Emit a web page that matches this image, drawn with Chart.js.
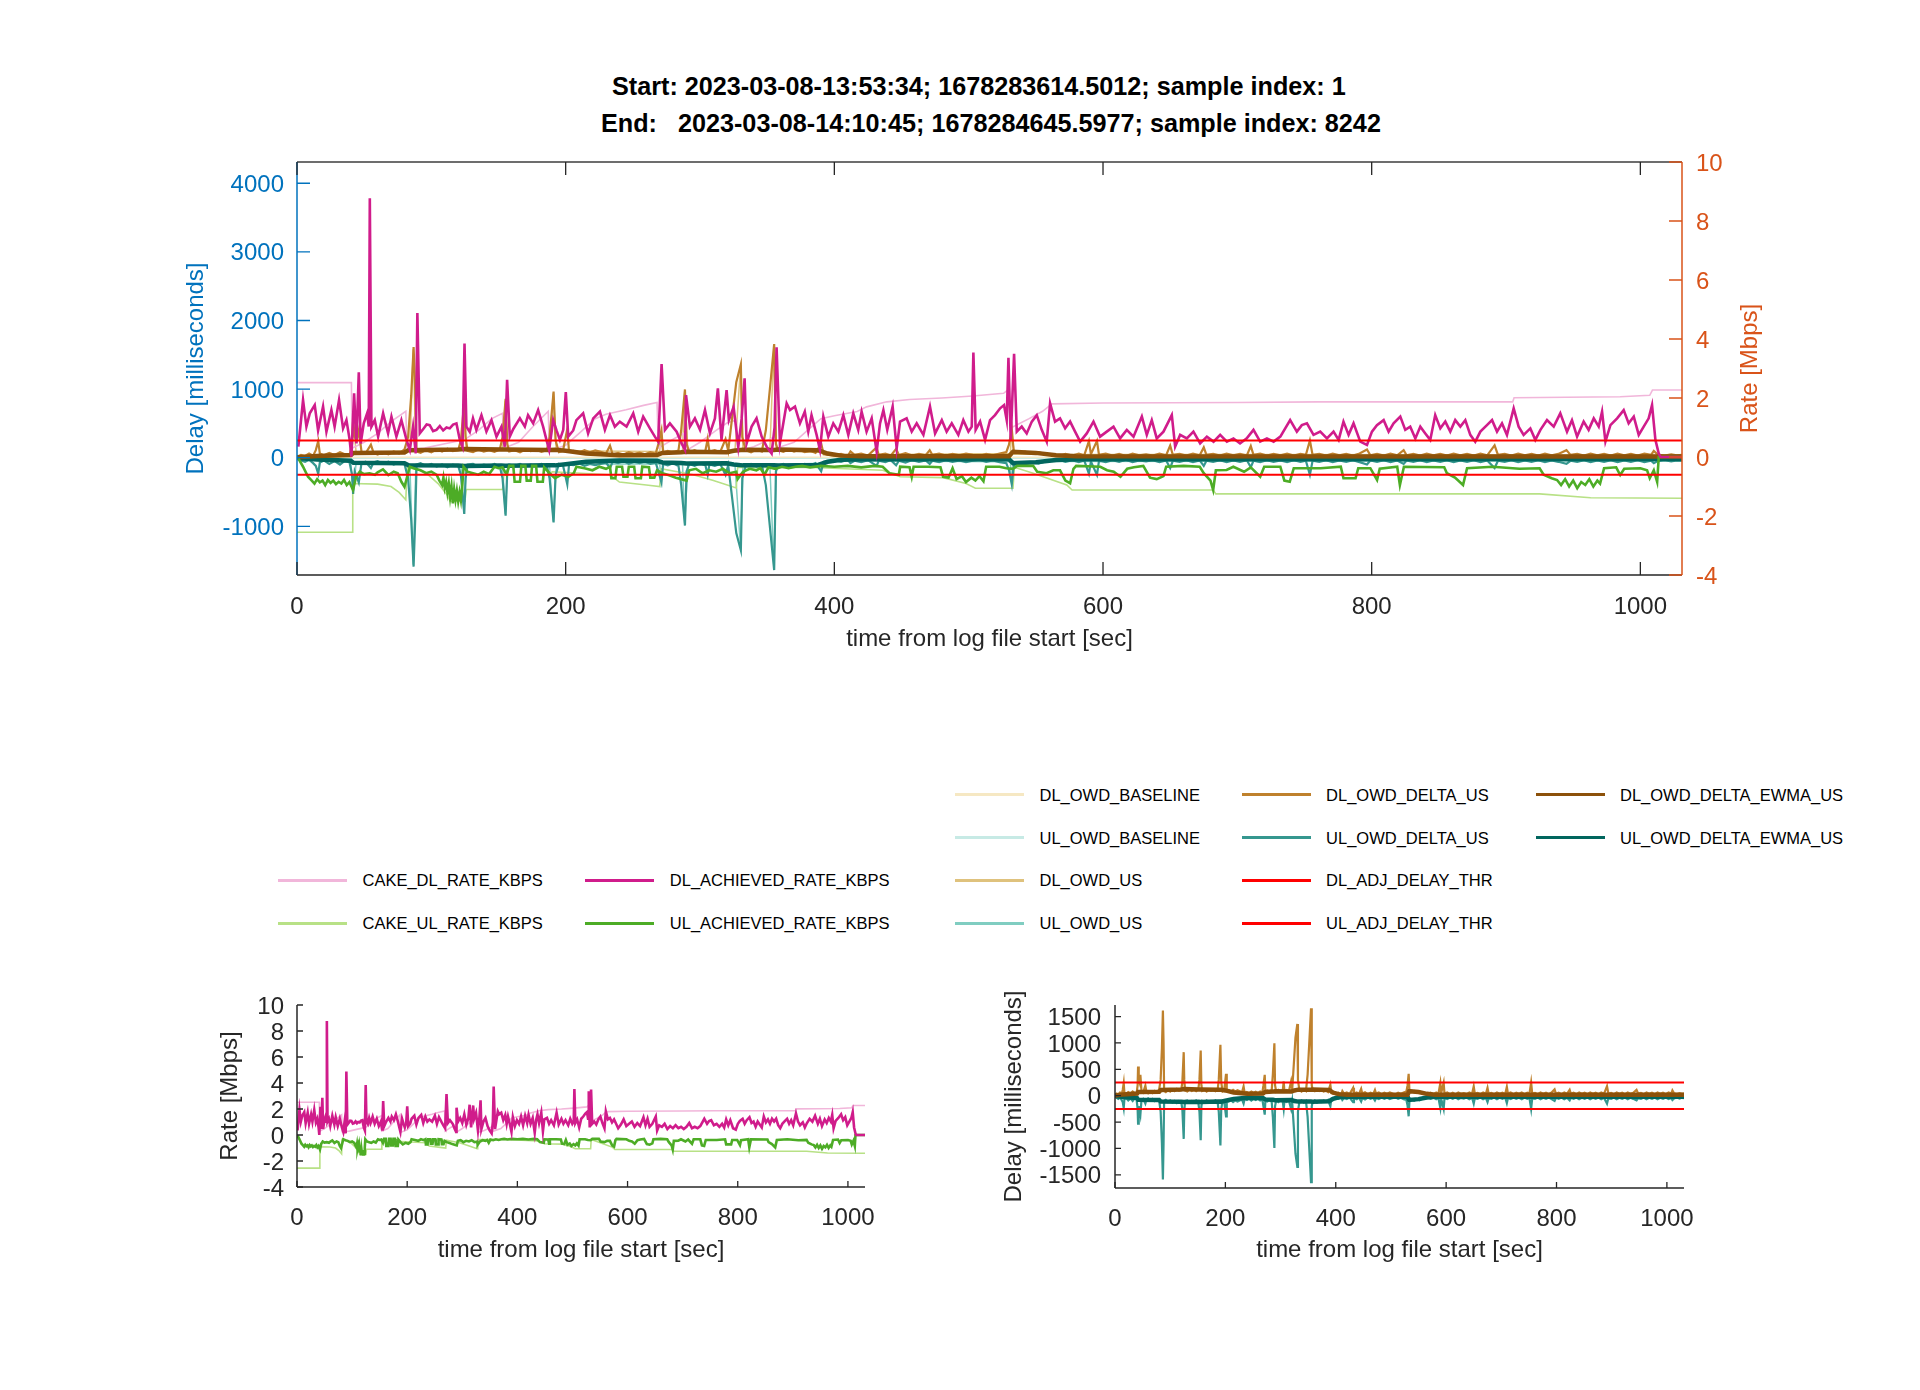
<!DOCTYPE html>
<html><head><meta charset="utf-8">
<script src="https://cdn.jsdelivr.net/npm/chart.js@4.4.0/dist/chart.umd.min.js"></script>
<style>
body{margin:0;background:#fff;}
#page{position:relative;width:1920px;height:1390px;background:#fff;font-family:"Liberation Sans",Arial,Helvetica,sans-serif;overflow:hidden;}
.ttl{position:absolute;font-weight:bold;font-size:25.2px;white-space:pre;color:#000;line-height:30px;}
canvas{position:absolute;}
.lg{position:absolute;height:20px;font-size:16.5px;color:#000;white-space:nowrap;}
.lg i{position:absolute;left:0;top:8.5px;width:69px;height:3px;}
.lg span{position:absolute;top:0;line-height:20px;}
</style></head>
<body><div id="page">
<div class="ttl" id="t1" style="left:612px;top:71px;"></div>
<div class="ttl" id="t2" style="left:601px;top:108px;"></div>
<canvas id="cTop" width="1700" height="548" style="left:150px;top:122px;width:1700px;height:548px;"></canvas>
<canvas id="cRate" width="760" height="315" style="left:150px;top:965px;width:760px;height:315px;"></canvas>
<canvas id="cDelay" width="760" height="315" style="left:960px;top:965px;width:760px;height:315px;"></canvas>
<div id="legend"></div>
</div>
<script>
// ---------------- text ----------------
const titleLines = [
  "Start: 2023-03-08-13:53:34; 1678283614.5012; sample index: 1",
  "End:   2023-03-08-14:10:45; 1678284645.5977; sample index: 8242"
];
const xTitle = "time from log file start [sec]";
const delayTitle = "Delay [milliseconds]";
const rateTitle = "Rate [Mbps]";

// ---------------- tick values ----------------
const timeTicks = [0, 200, 400, 600, 800, 1000];
const delayTopTicks = [-1000, 0, 1000, 2000, 3000, 4000];
const rateTicks = [-4, -2, 0, 2, 4, 6, 8, 10];
const delayBotTicks = [-1500, -1000, -500, 0, 500, 1000, 1500];
const xMin = 0, xMax = 1031;
const delayTopMin = -1710, delayTopMax = 4310;
const rateMin = -4, rateMax = 10;
const delayBotMin = -1750, delayBotMax = 1720;

// ---------------- data: [time s, value] ----------------
// rates in Mbps (right axis), delays in ms (left axis)
const cakeDlRate = [[0,2.52],[40.5,2.52],[41,0.3],[50,0.5],[60,0.8],[70,1.2],[81,1.55],[82,0.25],[95,0.3],[110,0.45],[121,0.55],[125,0.6],[135,0.9],[145,1.3],[153,1.48],[154,0.3],[165,0.5],[175,1.0],[187,1.55],[188,0.2],[200,0.4],[210,0.8],[222,1.3],[230,1.45],[245,1.6],[258,1.75],[268,1.85],[269,0.3],[280,0.6],[288,0.8],[289,0.2],[300,0.5],[312,0.9],[320,1.15],[327,1.25],[328,0.2],[340,0.35],[352,0.6],[356,0.7],[357,0.3],[370,0.5],[380,0.9],[390,1.3],[400,1.4],[417,1.54],[424,1.7],[439,1.87],[456,1.95],[480,2.0],[503,2.07],[526,2.16],[529,2.27],[532,1.0],[545,1.3],[555,1.55],[562,1.8],[600,1.83],[700,1.85],[760,1.87],[905,1.87],[906,2.01],[985,2.04],[1007,2.09],[1009,2.27],[1031,2.27]];

const cakeUlRate = [[0,-2.55],[41,-2.55],[41.5,-0.9],[60,-0.92],[70,-1.0],[76,-1.2],[81,-1.45],[82,-0.35],[95,-0.5],[105,-0.9],[112,-1.3],[114,-1.5],[125,-1.5],[126,-1.1],[153,-1.1],[154,-0.6],[188,-0.6],[190,-0.5],[233,-0.6],[240,-0.85],[260,-0.95],[270,-1.0],[271,-0.4],[295,-0.6],[310,-0.8],[327,-1.05],[328,-0.35],[380,-0.35],[436,-0.45],[449,-0.67],[481,-0.7],[498,-0.9],[505,-1.06],[533,-1.06],[534,-0.35],[548,-0.55],[573,-0.95],[577,-1.12],[682,-1.12],[684,-1.25],[925,-1.25],[963,-1.38],[1031,-1.4]];

const dlAchievedRate = [[1,0.35],[4.5,1.93],[7,1.03],[9.5,1.48],[13.2,1.76],[15.7,0.9],[19.4,1.71],[21.9,0.86],[25.6,1.59],[28,1.03],[31.3,1.93],[34.3,0.97],[36.8,1.25],[39.2,0.58],[40.5,0.01],[42.5,2.16],[44.2,0.46],[46,2.87],[47.4,0.46],[49.7,1.14],[52.2,1.48],[53.4,1.03],[54.2,8.77],[55.4,1.03],[57.9,1.25],[60.4,0.69],[64.1,1.48],[67.8,0.8],[70.3,1.37],[74,0.69],[77.7,1.25],[81.5,0.58],[84,0.24],[86.4,1.03],[88.4,0.12],[89.6,4.88],[91.4,0.8],[94,0.95],[96.5,1.1],[98.8,1.08],[101.3,0.88],[103.8,0.92],[106.3,1.05],[108.8,0.9],[111.3,1.0],[113.7,0.97],[116.2,1.1],[118.7,1.14],[121.2,0.58],[123.2,0.35],[124.7,3.85],[126.1,1.03],[128.6,0.85],[131,1.31],[133.5,0.92],[137.3,1.42],[141,0.86],[144.8,1.25],[148.5,0.69],[152.2,1.03],[154.7,0.35],[156.4,2.62],[158.4,0.69],[161,0.95],[165.9,1.31],[169.6,1.03],[172,1.42],[175.8,1.14],[179.5,1.59],[183.2,1.03],[185.7,0.58],[187.7,0.24],[190.7,1.25],[193.2,0.9],[195.7,0.58],[198.2,0.92],[200.1,2.2],[201.9,0.69],[205.6,0.9],[208,1.25],[213,1.48],[216.7,0.8],[220.5,1.31],[225.5,1.54],[229.2,0.92],[233,1.42],[236.6,1.03],[240.3,1.2],[245.3,1.03],[250.3,1.48],[254,0.86],[257.7,1.37],[262.7,0.97],[266.4,0.69],[268.9,0.52],[271.4,3.15],[273.9,0.92],[277.6,1.14],[282.6,0.86],[286.3,0.46],[288.8,0.24],[289.6,2.1],[292.5,1.03],[296.2,1.31],[300,0.92],[303.7,1.59],[307.4,0.8],[311.1,1.31],[313.3,2.33],[316,0.58],[319.8,2.27],[321.5,1.25],[325,1.7],[328.5,0.35],[331,1.3],[333.2,2.67],[334.7,0.46],[338.4,1.03],[342.1,1.31],[345.9,0.69],[349.6,0.35],[353.3,0.12],[355.5,1.0],[357,3.72],[359.5,0.46],[364.5,1.82],[367,1.59],[370.7,1.71],[374.4,1.14],[378,1.54],[380.6,0.86],[383,1.42],[386.8,0.75],[389.3,0.24],[391.8,1.37],[395.5,0.69],[399.2,1.14],[403,0.86],[406.7,1.42],[410.4,0.75],[414.1,1.48],[417.8,0.92],[420.3,1.54],[424,0.86],[427.8,1.31],[431.5,0.18],[434,1.14],[436.5,1.59],[439.4,0.92],[443.4,1.71],[446.4,0.29],[448.9,1.2],[453.8,1.31],[457.6,0.86],[461.3,1.14],[466.3,0.75],[471.2,1.71],[475,0.8],[480,1.25],[483.6,0.86],[487.4,1.14],[492.3,0.75],[496,1.25],[499.8,0.86],[502.3,1.03],[503.5,3.54],[505.2,0.92],[508.5,1.2],[512.2,0.58],[515.9,1.25],[519.6,1.42],[523.4,1.65],[526.3,1.76],[528.3,1.25],[529.6,3.36],[531.3,0.58],[533.8,3.5],[535.8,0.86],[539.5,1.03],[543.2,0.8],[547,1.2],[550.7,1.42],[554.4,0.92],[558.1,0.52],[560.6,1.82],[564.3,1.2],[568,1.31],[571.8,0.97],[575.5,1.2],[579.2,0.86],[583,0.52],[587.9,0.8],[592.9,1.2],[597.8,0.69],[602.8,0.86],[607.8,1.03],[612.7,0.63],[617.7,0.92],[622.7,0.69],[628.9,1.37],[632.6,0.75],[636.3,1.25],[640,0.63],[645,0.86],[651.2,1.42],[653.7,0.35],[657.4,0.75],[662.4,0.63],[667.3,0.86],[672.3,0.46],[677.3,0.69],[682.3,0.52],[687.2,0.75],[692.2,0.52],[697.1,0.63],[702,0.46],[707,0.63],[712,0.92],[717,0.52],[722,0.63],[727,0.52],[732,0.69],[739.3,1.25],[744.3,0.86],[748,1.08],[751.8,1.14],[756.7,0.75],[761.7,0.86],[766.7,0.63],[771.6,0.86],[775.4,0.58],[779,1.2],[782.8,0.75],[786.5,1.14],[791.5,0.52],[796.5,0.41],[800.2,0.86],[803.9,1.08],[808.9,1.25],[812.6,0.86],[816.3,1.14],[821.3,1.37],[825,0.92],[828.7,1.03],[832.5,0.63],[836.2,1.03],[839.9,0.8],[843.6,0.58],[847.3,1.42],[851.1,0.97],[854.8,1.2],[858.5,0.86],[862.2,1.25],[866,1.03],[869.7,1.25],[873.4,0.75],[877.1,0.52],[880.9,0.86],[885.8,1.08],[889.6,1.25],[893.3,0.86],[897,1.14],[900.7,0.75],[905.7,1.65],[909.4,1.03],[913.1,0.75],[918.1,0.97],[921.8,0.58],[925.6,0.92],[930.5,1.25],[935.5,1.03],[940.4,1.48],[945.4,0.86],[949.1,1.25],[952.9,0.69],[957.8,1.2],[961.5,0.92],[965.3,1.31],[969,1.03],[971.5,1.54],[974,0.52],[977.7,1.08],[982.7,1.31],[987.6,1.59],[991.3,1.14],[995.1,1.37],[998.8,0.75],[1002.5,1.03],[1006.2,1.31],[1008.7,1.76],[1011.2,0.58],[1013.7,0.12],[1015,0],[1031,0]];

const ulAchievedRate = [[1,-0.05],[4.5,-0.33],[8.2,-0.67],[11,-0.8],[13,-0.9],[15,-0.75],[17,-0.86],[19,-0.8],[21,-0.95],[23,-0.78],[25,-0.88],[27,-0.8],[29,-0.92],[31,-0.84],[33,-0.9],[35,-0.78],[37,-0.95],[39,-0.85],[41.7,-1.12],[44,-0.67],[46.7,-0.5],[50,-0.58],[54,-0.55],[58,-0.6],[60,-0.52],[64,-0.42],[68,-0.61],[72,-0.5],[75,-0.55],[77.7,-0.84],[80,-1.01],[82.7,-0.55],[84,-0.33],[88,-0.4],[92,-0.45],[96,-0.55],[100,-0.5],[104,-0.61],[106,-0.8],[108,-0.95],[109,-0.7],[110,-1.05],[111,-0.85],[112,-1.2],[113,-0.9],[114,-1.35],[115,-1.0],[116,-1.57],[117,-1.1],[118,-1.45],[119,-1.15],[120,-1.5],[121,-1.2],[122,-1.46],[123,-1.0],[124,-0.33],[127,-0.5],[131,-0.55],[135,-0.6],[139,-0.5],[143,-0.58],[147,-0.33],[150,-0.38],[153,-0.35],[156,-0.6],[158,-0.3],[161,-0.3],[162,-0.84],[166,-0.84],[167,-0.3],[170,-0.3],[171,-0.8],[174,-0.8],[175,-0.3],[178,-0.3],[179,-0.84],[183,-0.84],[184,-0.35],[188,-0.55],[192,-0.72],[197,-0.6],[202,-0.67],[206,-0.55],[208,-0.33],[214,-0.38],[220,-0.45],[225,-0.33],[230,-0.4],[233,-0.33],[234,-0.72],[237,-0.72],[238,-0.33],[242,-0.33],[243,-0.67],[246,-0.67],[247,-0.33],[251,-0.33],[252,-0.72],[256,-0.72],[257,-0.33],[262,-0.35],[263,-0.7],[266,-0.7],[268,-0.45],[272,-0.55],[277,-0.62],[282,-0.7],[286,-0.75],[290,-0.8],[292,-0.45],[297,-0.4],[302,-0.55],[307,-0.45],[312,-0.5],[317,-0.4],[322,-0.55],[327,-0.5],[328,-0.75],[332,-0.5],[337,-0.4],[342,-0.45],[345,-0.38],[348,-0.6],[351,-0.35],[356,-0.4],[361,-0.33],[366,-0.38],[371,-0.33],[376,-0.3],[382,-0.35],[390,-0.3],[400,-0.33],[410,-0.3],[420,-0.35],[430,-0.3],[436,-0.33],[441,-0.55],[448,-0.6],[449,-0.33],[456,-0.35],[457.6,-0.67],[459,-0.33],[470,-0.33],[479,-0.35],[481,-0.67],[485,-0.7],[488,-0.38],[491,-0.75],[495,-0.65],[498,-0.85],[502,-0.7],[505,-0.8],[508,-0.65],[511,-0.82],[513,-0.33],[523,-0.33],[528,-0.38],[533,-0.4],[536,-0.3],[548,-0.3],[551,-0.5],[558,-0.55],[563,-0.45],[568,-0.45],[572,-0.8],[575.5,-0.89],[578,-0.4],[580,-0.3],[598,-0.33],[603,-0.45],[608,-0.5],[613,-0.67],[618,-0.4],[623,-0.35],[630,-0.3],[635,-0.7],[640,-0.75],[645,-0.65],[647,-0.33],[660,-0.3],[672,-0.33],[675,-0.55],[680,-0.8],[682,-1.12],[684,-0.45],[692,-0.44],[697,-0.33],[705,-0.5],[710,-0.35],[717,-0.67],[720,-0.33],[732,-0.33],[735,-0.8],[739,-0.84],[742,-0.38],[762,-0.38],[777,-0.33],[779,-0.72],[788,-0.72],[790,-0.38],[799,-0.38],[804,-0.78],[806,-0.4],[819,-0.33],[821,-0.95],[824,-0.33],[854,-0.35],[856,-0.55],[862,-0.7],[868,-0.95],[871,-0.38],[890,-0.33],[910,-0.4],[925,-0.38],[928,-0.6],[934,-0.72],[938,-0.78],[941,-0.95],[944,-0.75],[947,-1.0],[950,-0.8],[953,-1.06],[956,-0.85],[959,-0.95],[962,-0.75],[965,-1.0],[968,-0.8],[970,-0.9],[973,-0.38],[982,-0.35],[985,-0.61],[988,-0.4],[1000,-0.38],[1005,-0.45],[1007,-0.72],[1010,-0.45],[1012.5,-0.84],[1013.7,0],[1031,0]];

const dlOwdBaseline = [[0,8],[1031,8]];
const ulOwdBaseline = [[0,-8],[1031,-8]];

const dlOwdUs = [[0,20],[40,60],[41.8,520],[44,80],[84,100],[86.5,1580],[88.5,100],[122,110],[124.3,800],[126,100],[153,110],[155,830],[157,100],[188,110],[190.8,940],[193,100],[270,90],[271,380],[273,90],[287,100],[288.6,970],[291,90],[326,100],[330.2,1330],[332,100],[352,110],[355,1620],[357,100],[390,80],[400,40],[531,60],[532,390],[534,50],[1031,40]];
const ulOwdUs = [[0,-20],[40,-60],[41.8,-500],[44,-80],[84,-100],[86.5,-1560],[88.5,-100],[122,-110],[124.3,-800],[126,-100],[153,-110],[155,-820],[157,-100],[188,-110],[190.8,-930],[193,-100],[270,-90],[271,-350],[273,-90],[287,-100],[288.6,-960],[291,-90],[326,-100],[330.2,-1320],[332,-100],[352,-110],[355,-1610],[357,-100],[390,-80],[400,-45],[531,-60],[532,-370],[534,-55],[1031,-45]];

const dlOwdDeltaUs = [[0,10],[3,40],[6,25],[9,60],[12,30],[14,110],[15.8,240],[17,60],[20,35],[24,70],[28,40],[32,80],[36,45],[39,30],[41,200],[41.8,554],[43,300],[44.5,250],[46,397],[48,90],[51,60],[55,190],[57,70],[60,45],[64,80],[68,50],[72,90],[76,60],[80,120],[82.7,300],[85,900],[86.8,1613],[88,1000],[89,90],[92,70],[96,110],[100,80],[104,120],[108,90],[112,130],[116,95],[120,110],[122,250],[124.5,826],[125.5,300],[127,100],[131,80],[135,120],[139,90],[143,110],[147,85],[151,120],[153,300],[155.3,857],[156.5,200],[158,90],[162,110],[166,80],[170,120],[174,95],[178,115],[182,85],[186,110],[188,300],[191,964],[192.5,250],[195,80],[198,100],[201.2,416],[202.5,90],[206,100],[210,75],[214,110],[218,80],[222,105],[226,85],[230,60],[233,176],[235,50],[239,70],[243,45],[247,80],[251,55],[255,75],[259,50],[263,80],[267,60],[269,200],[271.3,397],[272.5,80],[276,100],[280,70],[284,110],[286,400],[288.8,995],[290,200],[292,80],[296,110],[300,75],[304,100],[305.7,270],[307,90],[311,110],[315,80],[319,270],[321,100],[324,600],[327,1100],[330.4,1361],[331.5,300],[334,110],[338,80],[342,120],[346,90],[349,400],[352,1000],[355.2,1657],[356.5,200],[358,110],[362,85],[366,120],[370,90],[374,115],[378,80],[382,100],[386,70],[390.2,208],[392,50],[396,40],[400,30],[405,55],[410,25],[412,90],[415,40],[420,60],[425,30],[431.5,150],[433,40],[438,60],[442,30],[446,130],[448,40],[453,65],[458,30],[463,55],[468,35],[471,110],[473,40],[478,60],[483,30],[488,55],[493,35],[498,60],[503,40],[508,25],[513,55],[518,35],[523,60],[528,80],[530,190],[532.1,416],[533.5,100],[537,70],[542,90],[547,60],[552,80],[557,50],[562,40],[567,25],[572,55],[577,30],[582,60],[586,35],[589.5,240],[591,50],[595.5,245],[597,40],[602,60],[607,30],[612,55],[617,25],[622,60],[627,35],[632,50],[637,30],[642,60],[647,35],[650,176],[652,40],[657,55],[662,30],[667,60],[672,35],[675,150],[677,40],[682,55],[687,30],[692,60],[697,35],[702,55],[707,30],[710,170],[712,40],[717,60],[722,30],[727,55],[732,35],[737,60],[742,30],[747,55],[751,40],[754,252],[756,40],[761,55],[766,30],[771,60],[776,35],[781,55],[786,30],[791,60],[796.5,120],[799,35],[804,55],[809,30],[814,60],[819,35],[823.8,110],[826,35],[831,55],[836,30],[841,60],[846,35],[851,55],[856,30],[861,60],[866,35],[871,55],[876,30],[881,60],[886,35],[891.5,180],[894,40],[899,55],[904,30],[909,60],[914,35],[919,55],[924,30],[929,60],[934,35],[939,55],[945,110],[948,40],[953,55],[958,30],[963,60],[968,35],[973,55],[978,30],[983,60],[988,35],[993,55],[998,30],[1003,60],[1008,40],[1010,100],[1013,45],[1018,30],[1023,50],[1027,35],[1031,40]];

const ulOwdDeltaUs = [[0,-10],[3,-40],[6,-60],[9,-30],[12,-80],[14,-120],[15.8,-233],[17,-70],[20,-40],[24,-90],[28,-50],[32,-100],[36,-40],[39,-60],[41,-250],[41.8,-529],[43,-200],[46,-360],[48,-80],[51,-60],[55,-150],[57,-70],[60,-50],[64,-90],[68,-60],[72,-100],[76,-70],[80,-90],[82.7,-300],[85,-900],[86.8,-1588],[88,-900],[89,-100],[92,-80],[96,-120],[100,-90],[104,-130],[108,-100],[112,-140],[116,-100],[120,-120],[122,-250],[124.5,-819],[125.5,-300],[127,-100],[131,-90],[135,-130],[139,-100],[143,-120],[147,-90],[151,-130],[153,-300],[155.3,-844],[156.5,-200],[158,-100],[162,-120],[166,-90],[170,-130],[174,-100],[178,-125],[182,-90],[186,-120],[188,-300],[191,-945],[192.5,-250],[195,-90],[198,-110],[201.2,-390],[202.5,-100],[206,-110],[210,-80],[214,-120],[218,-90],[222,-110],[226,-90],[230,-70],[233,-150],[235,-60],[239,-80],[243,-50],[247,-90],[251,-60],[255,-80],[259,-55],[263,-90],[267,-70],[269,-200],[271.3,-360],[272.5,-90],[276,-110],[280,-80],[284,-120],[286,-400],[288.8,-989],[290,-200],[292,-90],[296,-120],[300,-80],[304,-110],[305.7,-250],[307,-100],[311,-120],[315,-90],[319,-250],[321,-110],[324,-600],[327,-1100],[330.4,-1348],[331.5,-300],[334,-120],[338,-90],[342,-130],[346,-100],[349,-400],[352,-1000],[355.2,-1638],[356.5,-200],[358,-120],[362,-90],[366,-130],[370,-100],[374,-120],[378,-90],[382,-110],[386,-80],[390.2,-200],[392,-60],[396,-50],[400,-35],[405,-60],[410,-30],[412,-80],[415,-45],[420,-65],[425,-35],[431.5,-120],[433,-45],[438,-65],[442,-35],[446,-110],[448,-45],[453,-70],[458,-35],[463,-60],[468,-40],[471,-90],[473,-45],[478,-65],[483,-35],[488,-60],[493,-40],[498,-65],[503,-45],[508,-30],[513,-60],[518,-40],[523,-65],[528,-80],[530,-180],[532.1,-390],[533.5,-110],[537,-75],[542,-95],[547,-65],[552,-85],[557,-55],[562,-45],[567,-30],[572,-60],[577,-35],[582,-65],[586,-40],[589.5,-233],[591,-55],[595.5,-250],[597,-45],[602,-65],[607,-35],[612,-60],[617,-30],[622,-65],[627,-40],[632,-55],[637,-35],[642,-65],[647,-40],[650,-150],[652,-45],[657,-60],[662,-35],[667,-65],[672,-40],[675,-120],[677,-45],[682,-60],[687,-35],[692,-65],[697,-40],[702,-60],[707,-35],[710,-140],[712,-45],[717,-65],[722,-35],[727,-60],[732,-40],[737,-65],[742,-35],[747,-60],[751,-45],[754,-250],[756,-45],[761,-60],[766,-35],[771,-65],[776,-40],[781,-60],[786,-35],[791,-65],[796.5,-100],[799,-40],[804,-60],[809,-35],[814,-65],[819,-40],[823.8,-90],[826,-40],[831,-60],[836,-35],[841,-65],[846,-40],[851,-60],[856,-35],[861,-65],[866,-40],[871,-60],[876,-35],[881,-65],[886,-40],[891.5,-150],[894,-45],[899,-60],[904,-35],[909,-65],[914,-40],[919,-60],[924,-35],[929,-65],[934,-40],[939,-60],[945,-90],[948,-45],[953,-60],[958,-35],[963,-65],[968,-40],[973,-60],[978,-35],[983,-65],[988,-40],[993,-60],[998,-35],[1003,-65],[1008,-45],[1010,-80],[1013,-50],[1018,-35],[1023,-55],[1027,-40],[1031,-45]];

const dlOwdDeltaEwmaUs = [[0,5],[15,25],[40,40],[42,70],[80,75],[83,110],[120,120],[125,125],[152,118],[155,120],[188,112],[192,115],[200,100],[215,60],[240,35],[268,40],[272,70],[286,78],[290,85],[320,80],[325,100],[332,115],[355,112],[358,118],[388,110],[395,60],[405,30],[420,20],[530,20],[533,85],[550,70],[565,35],[580,20],[1031,18]];
const ulOwdDeltaEwmaUs = [[0,-5],[15,-25],[40,-45],[42,-75],[80,-80],[83,-110],[120,-115],[125,-120],[152,-115],[155,-118],[188,-110],[192,-112],[200,-95],[215,-60],[240,-40],[268,-45],[272,-70],[286,-78],[290,-85],[320,-80],[325,-100],[332,-112],[355,-110],[358,-115],[388,-105],[395,-60],[405,-30],[420,-22],[530,-22],[533,-80],[550,-65],[565,-35],[580,-22],[1031,-20]];

const dlAdjDelayThr = [[0,250],[1031,250]];
const ulAdjDelayThr = [[0,-250],[1031,-250]];

// ---------------- styling ----------------
const FONT = '"Liberation Sans", Arial, Helvetica, sans-serif';
Chart.defaults.font.family = FONT;
const AX = '#262626', BLUE = '#0072BD', ORANGE = '#D95319';
const S = {
  CAKE_DL_RATE_KBPS:      {data: cakeDlRate,        color:'#f1b6da', w:1.6},
  CAKE_UL_RATE_KBPS:      {data: cakeUlRate,        color:'#b8e186', w:1.6},
  DL_ACHIEVED_RATE_KBPS:  {data: dlAchievedRate,    color:'#d01c8b', w:2.6},
  UL_ACHIEVED_RATE_KBPS:  {data: ulAchievedRate,    color:'#4dac26', w:2.6},
  DL_OWD_BASELINE:        {data: dlOwdBaseline,     color:'#f6e8c3', w:1.5},
  UL_OWD_BASELINE:        {data: ulOwdBaseline,     color:'#c7eae5', w:1.5},
  DL_OWD_US:              {data: dlOwdUs,           color:'#dfc27d', w:1.5},
  UL_OWD_US:              {data: ulOwdUs,           color:'#80cdc1', w:1.5},
  DL_OWD_DELTA_US:        {data: dlOwdDeltaUs,      color:'#bf812d', w:2.2},
  UL_OWD_DELTA_US:        {data: ulOwdDeltaUs,      color:'#35978f', w:2.2},
  DL_OWD_DELTA_EWMA_US:   {data: dlOwdDeltaEwmaUs,  color:'#8c510a', w:4.5},
  UL_OWD_DELTA_EWMA_US:   {data: ulOwdDeltaEwmaUs,  color:'#01665e', w:4.5},
  DL_ADJ_DELAY_THR:       {data: dlAdjDelayThr,     color:'#ff0000', w:2.0},
  UL_ADJ_DELAY_THR:       {data: ulAdjDelayThr,     color:'#ff0000', w:2.0}
};
const RATE_KEYS = ['CAKE_DL_RATE_KBPS','CAKE_UL_RATE_KBPS','DL_ACHIEVED_RATE_KBPS','UL_ACHIEVED_RATE_KBPS'];

function ds(key, axis) {
  const s = S[key];
  return {label:key, data:s.data.map(p=>({x:p[0], y:p[1]})), borderColor:s.color, backgroundColor:s.color,
    borderWidth:s.w, pointRadius:0, tension:0, fill:false, yAxisID:axis, xAxisID:'x'};
}

// plugin: axis box lines + inward ticks (positions from the chart scales)
const axesPlugin = {
  id:'mAxes',
  afterDraw(chart, args, o) {
    const c = chart.ctx, a = chart.chartArea;
    c.save();
    (o.lines||[]).forEach(L => {
      c.strokeStyle = L.color; c.lineWidth = L.w || 1.5; c.beginPath();
      if (L.edge==='top'){c.moveTo(a.left,a.top);c.lineTo(a.right,a.top);}
      if (L.edge==='bottom'){c.moveTo(a.left,a.bottom);c.lineTo(a.right,a.bottom);}
      if (L.edge==='left'){c.moveTo(a.left,a.top);c.lineTo(a.left,a.bottom);}
      if (L.edge==='right'){c.moveTo(a.right,a.top);c.lineTo(a.right,a.bottom);}
      c.stroke();
    });
    (o.ticks||[]).forEach(T => {
      const s = chart.scales[T.scale];
      c.strokeStyle = T.color; c.lineWidth = T.w || 1.3; c.beginPath();
      s.ticks.forEach(t => {
        const p = s.getPixelForValue(t.value);
        if (T.edge==='bottom'){c.moveTo(p,a.bottom);c.lineTo(p,a.bottom-T.len);}
        if (T.edge==='top'){c.moveTo(p,a.top);c.lineTo(p,a.top+T.len);}
        if (T.edge==='left'){c.moveTo(a.left,p);c.lineTo(a.left+T.len,p);}
        if (T.edge==='right'){c.moveTo(a.right,p);c.lineTo(a.right-T.len,p);}
      });
      c.stroke();
    });
    (o.texts||[]).forEach(X => {
      c.save(); c.fillStyle = X.color; c.font = X.font; c.textAlign='center'; c.textBaseline='middle';
      c.translate(X.x, (a.top+a.bottom)/2); c.rotate(-Math.PI/2); c.fillText(X.text,0,0); c.restore();
    });
    c.restore();
  }
};

function fixedTicks(vals) { return function(s){ s.ticks = vals.map(v => ({value:v})); }; }
function xScale(h, tickPad, titlePadB) {
  return {type:'linear', position:'bottom', min:xMin, max:xMax,
    afterBuildTicks: fixedTicks(timeTicks),
    ticks:{autoSkip:false, color:AX, font:{size:24}, padding:tickPad, maxRotation:0, callback:v=>String(v)},
    grid:{display:false, drawTicks:false}, border:{display:false},
    title:{display:true, text:xTitle, color:AX, font:{size:24}, padding:{top:0,bottom:titlePadB}},
    afterFit(s){ s.height = h; }};
}
function yScale(pos, min, max, vals, w, color, tickPad, title, titlePadT) {
  return {type:'linear', position:pos, min:min, max:max,
    afterBuildTicks: fixedTicks(vals),
    ticks:{autoSkip:false, color:color, font:{size:24}, padding:tickPad, labelOffset:2, callback:v=>String(v)},
    grid:{display:false, drawTicks:false}, border:{display:false},
    title:{display:!!title, text:title||'', color:color, font:{size:24}, padding:{top:titlePadT||0,bottom:0}},
    afterFit(s){ s.width = w; }};
}
const base = {responsive:false, animation:false, devicePixelRatio:1, parsing:false,
  plugins:{legend:{display:false}, tooltip:{enabled:false}}};

// ---------------- top chart ----------------
const topOrder = ['DL_ADJ_DELAY_THR','UL_ADJ_DELAY_THR','DL_ACHIEVED_RATE_KBPS','UL_ACHIEVED_RATE_KBPS',
  'DL_OWD_DELTA_EWMA_US','UL_OWD_DELTA_EWMA_US','DL_OWD_DELTA_US','UL_OWD_DELTA_US',
  'CAKE_DL_RATE_KBPS','CAKE_UL_RATE_KBPS','DL_OWD_US','UL_OWD_US','DL_OWD_BASELINE','UL_OWD_BASELINE'];
new Chart(document.getElementById('cTop'), {
  type:'line',
  data:{datasets: topOrder.map(k => ds(k, RATE_KEYS.includes(k) ? 'yR' : 'yL'))},
  options:Object.assign({}, base, {
    layout:{padding:{top:40,left:0,right:0,bottom:0}},
    scales:{
      x: xScale(95, 18, 16.5),
      yL: yScale('left', delayTopMin, delayTopMax, delayTopTicks, 147, BLUE, 13, delayTitle, 31.6),
      yR: yScale('right', rateMin, rateMax, rateTicks, 168, ORANGE, 14, null, 0)
    },
    plugins:Object.assign({}, base.plugins, {mAxes:{
      lines:[{edge:'top',color:'#3c3c3c'},{edge:'bottom',color:AX},{edge:'left',color:BLUE},{edge:'right',color:ORANGE}],
      ticks:[{scale:'x',edge:'bottom',len:13,color:AX},{scale:'x',edge:'top',len:13,color:AX},
             {scale:'yL',edge:'left',len:13,color:BLUE},{scale:'yR',edge:'right',len:13,color:ORANGE}],
      texts:[{text:rateTitle, x:1600, color:ORANGE, font:'24px '+FONT}]
    }})
  }),
  plugins:[axesPlugin]
});

// ---------------- bottom-left: rates ----------------
const rateOrder = ['DL_ACHIEVED_RATE_KBPS','UL_ACHIEVED_RATE_KBPS','CAKE_DL_RATE_KBPS','CAKE_UL_RATE_KBPS'];
new Chart(document.getElementById('cRate'), {
  type:'line',
  data:{datasets: rateOrder.map(k => ds(k,'y'))},
  options:Object.assign({}, base, {
    layout:{padding:{top:40,left:0,right:45,bottom:0}},
    scales:{ x: xScale(93, 17, 15.5), y: yScale('left', rateMin, rateMax, rateTicks, 147, AX, 13, rateTitle, 65.6) },
    plugins:Object.assign({}, base.plugins, {mAxes:{
      lines:[{edge:'bottom',color:AX},{edge:'left',color:AX}],
      ticks:[{scale:'x',edge:'bottom',len:6,color:AX},{scale:'y',edge:'left',len:6,color:AX}]
    }})
  }),
  plugins:[axesPlugin]
});

// ---------------- bottom-right: delays ----------------
const delayOrder = ['DL_ADJ_DELAY_THR','UL_ADJ_DELAY_THR','DL_OWD_DELTA_EWMA_US','UL_OWD_DELTA_EWMA_US','DL_OWD_DELTA_US','UL_OWD_DELTA_US'];
new Chart(document.getElementById('cDelay'), {
  type:'line',
  data:{datasets: delayOrder.map(k => ds(k,'y'))},
  options:Object.assign({}, base, {
    layout:{padding:{top:40,left:0,right:36,bottom:0}},
    scales:{ x: xScale(92, 17, 15.5), y: yScale('left', delayBotMin, delayBotMax, delayBotTicks, 155, AX, 14, delayTitle, 39.5) },
    plugins:Object.assign({}, base.plugins, {mAxes:{
      lines:[{edge:'bottom',color:AX},{edge:'left',color:AX}],
      ticks:[{scale:'x',edge:'bottom',len:6,color:AX},{scale:'y',edge:'left',len:6,color:AX}]
    }})
  }),
  plugins:[axesPlugin]
});

// ---------------- titles & legend ----------------
document.getElementById('t1').textContent = titleLines[0];
document.getElementById('t2').textContent = titleLines[1];

const legendRowsY = [794.7, 837.6, 880.4, 923.3];
const legendColsX = {A:278, B:585.3, C:955, D:1241.6, E:1535.5};
const legendLayout = [
  ['DL_OWD_BASELINE','C',0],['DL_OWD_DELTA_US','D',0],['DL_OWD_DELTA_EWMA_US','E',0],
  ['UL_OWD_BASELINE','C',1],['UL_OWD_DELTA_US','D',1],['UL_OWD_DELTA_EWMA_US','E',1],
  ['CAKE_DL_RATE_KBPS','A',2],['DL_ACHIEVED_RATE_KBPS','B',2],['DL_OWD_US','C',2],['DL_ADJ_DELAY_THR','D',2],
  ['CAKE_UL_RATE_KBPS','A',3],['UL_ACHIEVED_RATE_KBPS','B',3],['UL_OWD_US','C',3],['UL_ADJ_DELAY_THR','D',3]
];
const lg = document.getElementById('legend');
legendLayout.forEach(([key,col,row]) => {
  const d = document.createElement('div'); d.className='lg';
  d.style.left = legendColsX[col]+'px'; d.style.top = (legendRowsY[row]-10)+'px';
  const i = document.createElement('i'); i.style.background = S[key].color; d.appendChild(i);
  const sp = document.createElement('span'); sp.style.left='84.5px'; sp.textContent = key; d.appendChild(sp);
  lg.appendChild(d);
});
</script>
</body></html>
